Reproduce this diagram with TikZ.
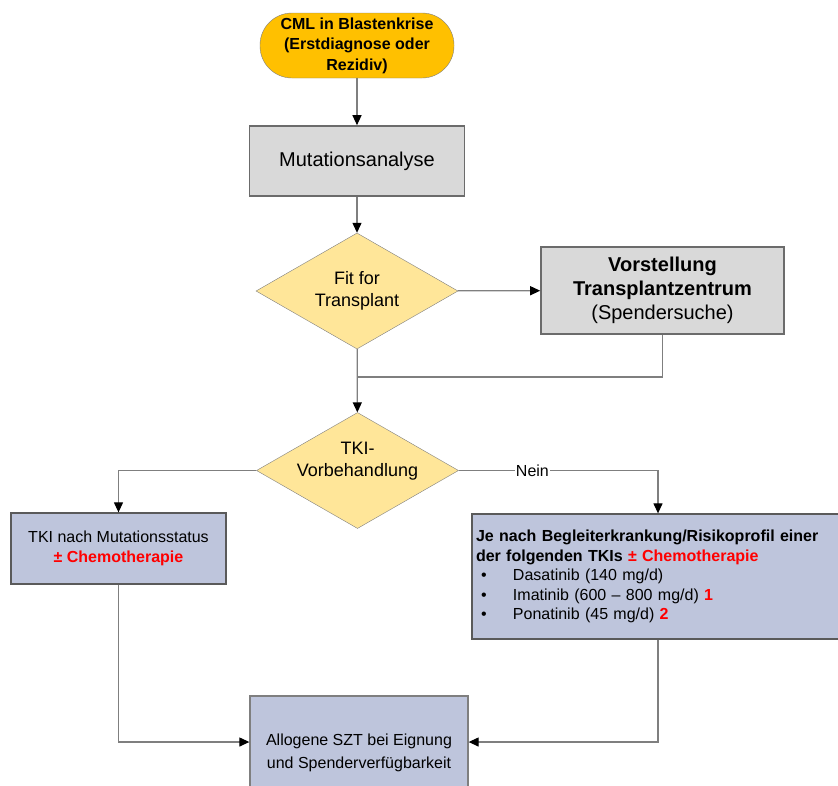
\documentclass[tikz,border=0pt]{standalone}
\usepackage{fontspec}
\setmainfont{Liberation Sans}
\usepackage{tikz}
\usetikzlibrary{shapes.geometric, arrows.meta}

\definecolor{cmlorange}{HTML}{FFC000}
\definecolor{boxgray}{HTML}{D9D9D9}
\definecolor{diayellow}{HTML}{FFE699}
\definecolor{boxblue}{HTML}{BEC5DC}
\definecolor{linegray}{HTML}{7F7F7F}
\definecolor{darkborder}{HTML}{5A5A5A}
\definecolor{tkired}{HTML}{FF0000}

\newcommand{\drugitem}[1]{\makebox[37pt][l]{\hspace{5pt}•}#1}

\begin{document}
\begin{tikzpicture}[x=1pt, y=-1pt,
    >={Triangle[length=10pt, width=9pt, color=black]},
    line/.style={draw=linegray, line width=1.2pt},
    startbox/.style={draw=linegray, fill=cmlorange, rounded corners=32pt, minimum width=194pt,
        minimum height=65pt, align=center, font=\fontsize{16}{20.5}\selectfont\bfseries},
    graybox/.style={draw=darkborder!90, line width=1.6pt, fill=boxgray, align=center,
        font=\fontsize{20}{24}\selectfont},
    decision/.style={diamond, draw=linegray, fill=diayellow, minimum width=202pt, minimum height=116pt,
        aspect=1.75, inner sep=-20pt, align=center, font=\fontsize{18}{22}\selectfont},
    bluebox/.style={draw=darkborder, line width=1.3pt, fill=boxblue, font=\fontsize{16}{20}\selectfont}]
    \clip (0,0) rectangle (838,785);

    \node[startbox] (start) at (357,45.5) {CML in Blastenkrise\\(Erstdiagnose oder\\Rezidiv)};
    \node[graybox, minimum width=215pt, minimum height=70pt] (mut) at (357,161) {Mutationsanalyse};
    \node[decision] (fit) at (357,291) {Fit for\\Transplant};
    \node[graybox, minimum width=243pt, minimum height=87pt] (vor) at (662.5,290.5)
        {\textbf{Vorstellung}\\\textbf{Transplantzentrum}\\(Spendersuche)};
    \coordinate (join) at (357,377);
    \node[decision] (tki) at (357.5,470.5) {TKI-\\Vorbehandlung\\\mbox{}};
    \node[bluebox, minimum width=215pt, minimum height=71pt, align=center] (status) at (118.5,548.5)
        {TKI nach Mutationsstatus\\\textcolor{tkired}{\textbf{± Chemotherapie}}};
    \node[bluebox, minimum width=372pt, minimum height=125pt, text width=364pt, inner xsep=4pt,
        align=left, font=\fontsize{16}{19.5}\selectfont] (tkis) at (658,576.5)
        {\textbf{Je nach Begleiterkrankung/Risikoprofil einer}\\
         \textbf{der folgenden TKIs \textcolor{tkired}{± Chemotherapie}}\\
         \drugitem{Dasatinib (140 mg/d)}\\
         \drugitem{Imatinib (600 – 800 mg/d) \textcolor{tkired}{\textbf{1}}}\\
         \drugitem{Ponatinib (45 mg/d) \textcolor{tkired}{\textbf{2}}}};
    \node[bluebox, draw=linegray, minimum width=218pt, minimum height=113pt, align=center,
        font=\fontsize{16}{23}\selectfont] (allo) at (359,752.5)
        {Allogene SZT bei Eignung\\und Spenderverfügbarkeit};

    \draw[line, ->] (start) -- (mut);
    \draw[line, ->] (mut) -- (fit);
    \draw[line, ->] (fit) -- (vor);
    \draw[line] (vor.south) |- (join);
    \draw[line, ->] (fit) -- (tki);
    \draw[line, ->] (tki.west) -| (status.north);
    \draw[line, ->] (tki.east) -| node[pos=0.185, fill=white, inner sep=1pt,
        font=\fontsize{16}{19}\selectfont] {Nein} (tkis.north);
    \draw[line, ->] (status.south) |- ([yshift=10.5pt]allo.west);
    \draw[line, ->] (tkis.south) |- ([yshift=10.5pt]allo.east);
\end{tikzpicture}
\end{document}
